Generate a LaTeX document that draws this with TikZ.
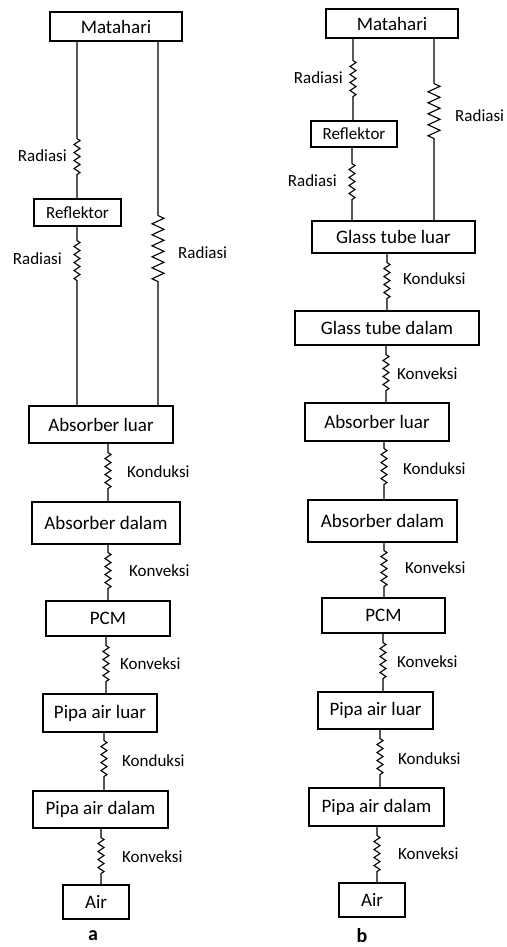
\documentclass[tikz,border=0pt]{standalone}
\usepackage{fontspec}
\setmainfont{Carlito}
\usetikzlibrary{decorations.pathmorphing}

\begin{document}
\begin{tikzpicture}[x=1pt,y=-1pt,
    box/.style={draw, line width=1.1pt, inner sep=0pt, font=\fontsize{19}{22}\selectfont},
    lbl/.style={inner sep=0pt, font=\fontsize{17}{20}\selectfont},
    tag/.style={inner sep=0pt, font=\fontsize{20}{22}\selectfont\bfseries},
    wire/.style={line width=1.1pt},
    spring/.style={line width=0.8pt, decoration={zigzag, segment length=8, amplitude=3}},
    bigspring/.style={line width=1pt, decoration={zigzag, segment length=11, amplitude=6}}]
      \useasboundingbox (0,0) rectangle (506,947);

       %boxes of a
      \node[box, minimum width=132, minimum height=29] (mataA) at (116,26.5) {Matahari};
      \node[box, minimum width=87, minimum height=27, font=\fontsize{17}{20}\selectfont] (reflA) at (77.5,212.5) {Reflektor};
      \node[box, minimum width=144, minimum height=37] (abslA) at (101,424.5) {Absorber luar};
      \node[box, minimum width=148, minimum height=42] (absdA) at (106,523) {Absorber dalam};
      \node[box, minimum width=124, minimum height=35] (pcmA) at (108,618.5) {PCM};
      \node[box, minimum width=114, minimum height=38] (pluA) at (100,713) {Pipa air luar};
      \node[box, minimum width=135, minimum height=37] (pdaA) at (100.5,809.5) {Pipa air dalam};
      \node[box, minimum width=66, minimum height=34] (airA) at (96,902) {Air};
      \node[tag] (tagA) at (93,936) {a};

       %boxes of b
      \node[box, minimum width=132, minimum height=29] (mataB) at (392,23.5) {Matahari};
      \node[box, minimum width=86, minimum height=26, font=\fontsize{17}{20}\selectfont] (reflB) at (354,134) {Reflektor};
      \node[box, minimum width=163, minimum height=32] (gtlB) at (393.5,237) {Glass tube luar};
      \node[box, minimum width=184, minimum height=34] (gtdB) at (387,328) {Glass tube dalam};
      \node[box, minimum width=144, minimum height=38] (abslB) at (377,422) {Absorber luar};
      \node[box, minimum width=149, minimum height=42] (absdB) at (382.5,521) {Absorber dalam};
      \node[box, minimum width=123, minimum height=35] (pcmB) at (383.5,615.5) {PCM};
      \node[box, minimum width=115, minimum height=37] (pluB) at (375.5,710.5) {Pipa air luar};
      \node[box, minimum width=135, minimum height=38] (pdaB) at (376.5,807) {Pipa air dalam};
      \node[box, minimum width=66, minimum height=34] (airB) at (372,900) {Air};
      \node[tag] (tagB) at (362,936) {b};

       %radiation paths
      \draw[wire] (mataA.south -| 77,0) -- ++(0,97) decorate[spring]{++(0,0) -- ++(0,39)} -- (reflA.north -| 77,0);
      \draw[wire] (reflA.south -| 77,0) -- ++(0,14) decorate[spring]{++(0,0) -- ++(0,40)} -- (abslA.north -| 77,0);
      \draw[wire] (mataA.south -| 158,0) -- ++(0,174) decorate[bigspring]{++(0,0) -- ++(0,67)} -- (abslA.north -| 158,0);
      \node[lbl, anchor=east] (radA1) at (67,156) {Radiasi};
      \node[lbl, anchor=east] (radA2) at (62,259) {Radiasi};
      \node[lbl, anchor=west] (radA3) at (178,253) {Radiasi};

      \draw[wire] (mataB.south -| 353,0) -- ++(0,22) decorate[spring]{++(0,0) -- ++(0,39)} -- (reflB.north -| 353,0);
      \draw[wire] (reflB.south -| 352,0) -- ++(0,16) decorate[spring]{++(0,0) -- ++(0,39)} -- (gtlB.north -| 352,0);
      \draw[wire] (mataB.south -| 434,0) -- ++(0,45) decorate[bigspring]{++(0,0) -- ++(0,59)} -- (gtlB.north -| 434,0);
      \node[lbl, anchor=east] (radB1) at (343,78) {Radiasi};
      \node[lbl, anchor=east] (radB2) at (337,181) {Radiasi};
      \node[lbl, anchor=west] (radB3) at (455,116) {Radiasi};

       %conduction and convection chain
      \foreach \ua/\ub/\x/\gap/\kind/\lx/\ly in {
          abslA/absdA/108/9/Konduksi/127/472, absdA/pcmA/108/8/Konveksi/129/571,
          pcmA/pluA/106/9/Konveksi/120/664, pluA/pdaA/104/8/Konduksi/122/761,
          pdaA/airA/101/9/Konveksi/122/857,
          gtlB/gtdB/387/9/Konduksi/403/279, gtdB/abslB/386/9/Konveksi/397/374,
          abslB/absdB/384/7/Konduksi/403/469, absdB/pcmB/384/8/Konveksi/405/568,
          pcmB/pluB/383/9/Konveksi/397/662, pluB/pdaB/380/9/Konduksi/398/759,
          pdaB/airB/377/9/Konveksi/398/854} {%
        \draw[wire] (\ua.south -| \x,0) -- ++(0,\gap) decorate[spring]{++(0,0) -- ++(0,38)} -- (\ub.north -| \x,0);
        \node[lbl, anchor=west] (l-\ua) at (\lx,\ly) {\kind};
      }
\end{tikzpicture}
\end{document}
